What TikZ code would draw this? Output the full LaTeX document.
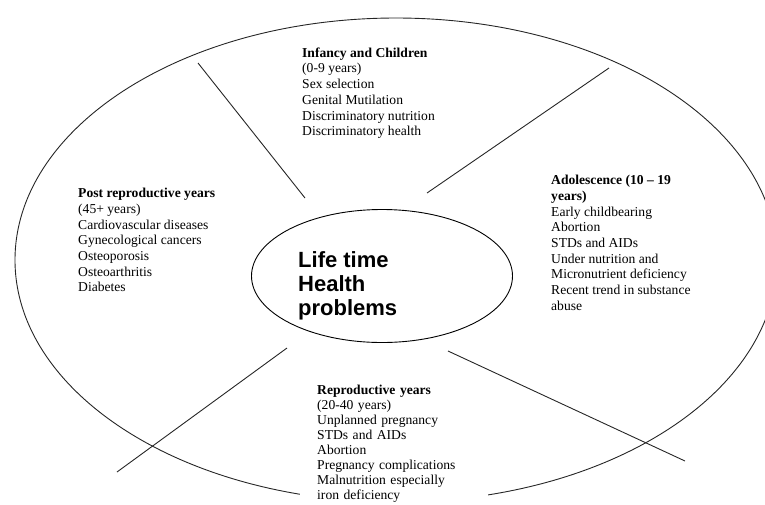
\documentclass[tikz,border=0pt]{standalone}
\usepackage{fontspec}
\setmainfont{Liberation Serif}
\setsansfont{Liberation Sans}
\usetikzlibrary{shapes.geometric}

\begin{document}
\begin{tikzpicture}[x=1pt, y=-1pt,
  stage/.style={anchor=north west, inner sep=0pt, align=left, font=\fontsize{13.6}{15.7}\selectfont},
  spoke/.style={line width=0.9pt, black!85}]
\useasboundingbox (0,0) rectangle (765,504);
\clip (0,0) rectangle (765,504);
% outer ring and hub
\draw[spoke] (396,260) ellipse [x radius=381, y radius=242];
\node[draw, ellipse, line width=0.9pt, minimum width=261pt, minimum height=133pt] (centre) at (382,276) {};
\node[anchor=north west, inner sep=0pt, align=left, font=\sffamily\bfseries\fontsize{22}{24}\selectfont] (title) at (298,251) {Life time\\Health\\problems};
% spokes
\coordinate (ulIn) at (305,198);
\coordinate (ulOut) at (198,63);
\coordinate (urIn) at (427,193);
\coordinate (urOut) at (609,68);
\coordinate (llIn) at (287,348);
\coordinate (llOut) at (117,472);
\coordinate (lrIn) at (448,351);
\coordinate (lrOut) at (685,461);
\draw[spoke] (ulIn) -- (ulOut);
\draw[spoke] (urIn) -- (urOut);
\draw[spoke] (llIn) -- (llOut);
\draw[spoke] (lrIn) -- (lrOut);
% life stages
\node[stage] (infancy) at (302,47.5) {\textbf{Infancy and Children}\\(0-9 years)\\Sex selection\\Genital Mutilation\\Discriminatory nutrition\\Discriminatory health};
\node[stage] (post) at (78,188) {\textbf{Post reproductive years}\\(45+ years)\\Cardiovascular diseases\\Gynecological cancers\\Osteoporosis\\Osteoarthritis\\Diabetes};
\node[stage] (adol) at (551,175) {\textbf{Adolescence (10 -- 19}\\\textbf{years)}\\Early childbearing\\Abortion\\STDs and AIDs\\Under nutrition and\\Micronutrient deficiency\\Recent trend in substance\\abuse};
\node[stage, fill=white, inner xsep=17pt, text width=154pt, font=\fontsize{13.6}{15.1}\selectfont] (repro) at (300,384.5) {\textbf{Reproductive years}\\(20-40 years)\\Unplanned pregnancy\\STDs and AIDs\\Abortion\\Pregnancy complications\\Malnutrition especially\\iron deficiency};
\end{tikzpicture}
\end{document}
